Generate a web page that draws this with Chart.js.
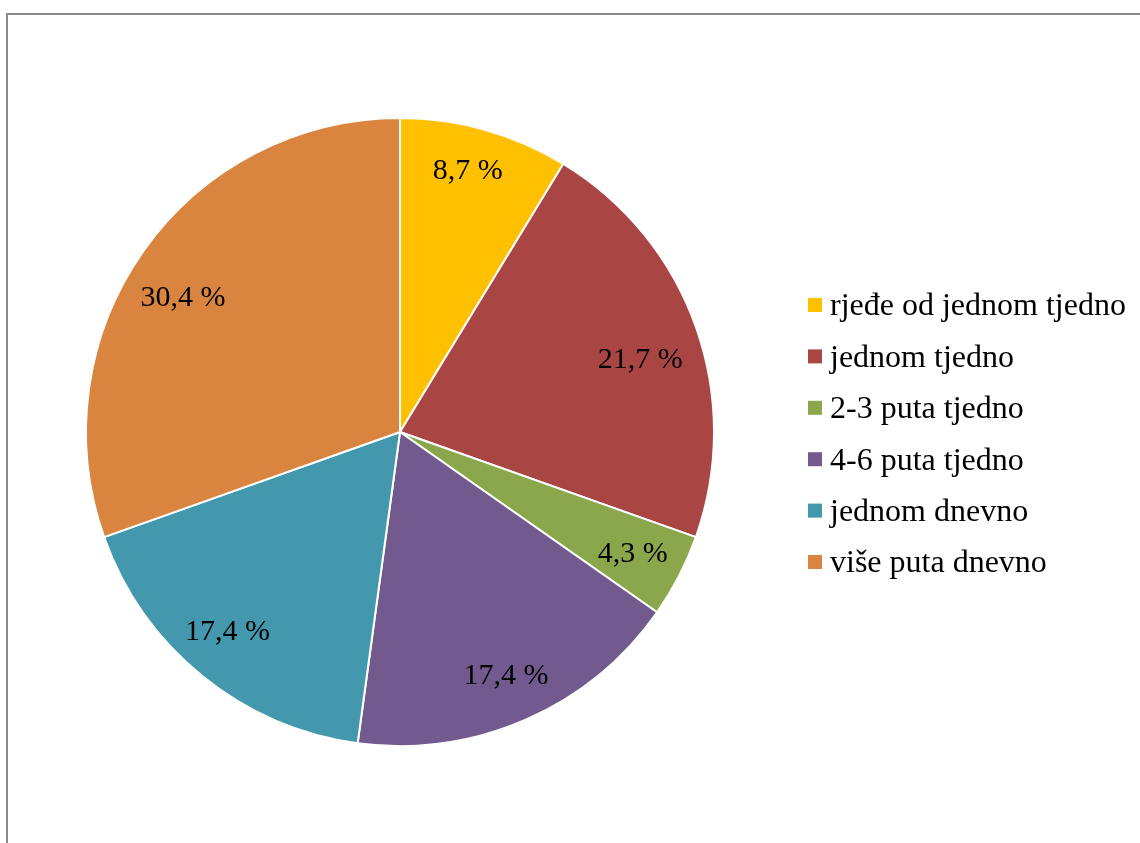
<!DOCTYPE html>
<html>
<head>
<meta charset="utf-8">
<script src="https://cdn.jsdelivr.net/npm/chart.js@4/dist/chart.umd.min.js"></script>
<style>
  html, body { margin: 0; padding: 0; background: #fff; overflow: hidden; }
  #frame { position: absolute; left: 6px; top: 13px; width: 1200px; height: 900px;
           border-left: 2px solid #8c8c8c; border-top: 2px solid #8c8c8c; box-sizing: border-box; }
  #wrap { position: absolute; left: 0; top: 0; width: 1140px; height: 843px; }
</style>
</head>
<body>
<div id="frame"></div>
<div id="wrap"><canvas id="c" width="1140" height="843"></canvas></div>
<script>
const categories = ["rjeđe od jednom tjedno", "jednom tjedno", "2-3 puta tjedno", "4-6 puta tjedno", "jednom dnevno", "više puta dnevno"];
const percentages = [8.7, 21.7, 4.3, 17.4, 17.4, 30.4];
const valueLabels = ["8,7 %", "21,7 %", "4,3 %", "17,4 %", "17,4 %", "30,4 %"];
const colors = ["#FFC000", "#A94644", "#8BA74C", "#725A8F", "#4398AE", "#D9843F"];

const FONT = '"Liberation Serif", "Times New Roman", serif';

// label placement tweaks (best-fit style): radius fraction and angle shift (deg)
const labelRadiusFrac = [0.863, 0.80, 0.834, 0.843, 0.837, 0.815];
const labelAngleShift = [-1.2, 2.5, 0, 0, 1.9, -3.2];

const labelPlugin = {
  id: 'sliceLabels',
  afterDatasetsDraw(chart) {
    const ctx = chart.ctx;
    const meta = chart.getDatasetMeta(0);
    ctx.save();
    ctx.font = '30px ' + FONT;
    ctx.fillStyle = '#000';
    ctx.textAlign = 'center';
    ctx.textBaseline = 'middle';
    meta.data.forEach((arc, i) => {
      const mid = (arc.startAngle + arc.endAngle) / 2 + labelAngleShift[i] * Math.PI / 180;
      const r = arc.outerRadius * labelRadiusFrac[i];
      const x = arc.x + Math.cos(mid) * r;
      const y = arc.y + Math.sin(mid) * r;
      ctx.fillText(valueLabels[i], x, y + 2);
    });
    ctx.restore();
  }
};

const legendPlugin = {
  id: 'sideLegend',
  afterDraw(chart) {
    const ctx = chart.ctx;
    ctx.save();
    ctx.font = '32px ' + FONT;
    ctx.textBaseline = 'middle';
    ctx.textAlign = 'left';
    const x0 = 808, y0 = 305, step = 51.4, box = 14;
    categories.forEach((c, i) => {
      const y = y0 + i * step;
      ctx.fillStyle = colors[i];
      ctx.fillRect(x0, y - box / 2, box, box);
      ctx.fillStyle = '#000';
      ctx.fillText(c, x0 + 22, y + 2);
    });
    ctx.restore();
  }
};

new Chart(document.getElementById('c'), {
  type: 'pie',
  data: {
    labels: categories,
    datasets: [{
      data: percentages,
      backgroundColor: colors,
      borderColor: '#ffffff',
      borderWidth: 2
    }]
  },
  options: {
    responsive: false,
    animation: false,
    layout: { padding: { left: 85, top: 117, right: 425, bottom: 96 } },
    plugins: { legend: { display: false }, tooltip: { enabled: false } }
  },
  plugins: [labelPlugin, legendPlugin]
});
</script>
</body>
</html>
